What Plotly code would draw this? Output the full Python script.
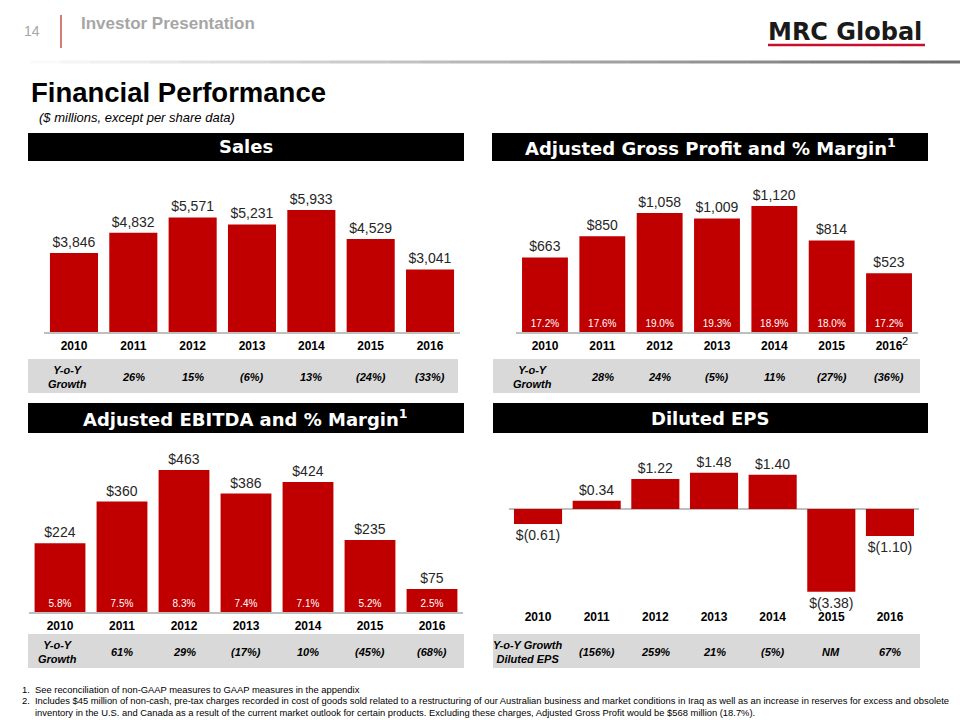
import plotly.graph_objects as go

# ---------------- data ----------------
years = ["2010", "2011", "2012", "2013", "2014", "2015", "2016"]

sales = [3846, 4832, 5571, 5231, 5933, 4529, 3041]
sales_growth = ["26%", "15%", "(6%)", "13%", "(24%)", "(33%)"]

gross_profit = [663, 850, 1058, 1009, 1120, 814, 523]
gross_margin = ["17.2%", "17.6%", "19.0%", "19.3%", "18.9%", "18.0%", "17.2%"]
gp_growth = ["28%", "24%", "(5%)", "11%", "(27%)", "(36%)"]

ebitda = [224, 360, 463, 386, 424, 235, 75]
ebitda_margin = ["5.8%", "7.5%", "8.3%", "7.4%", "7.1%", "5.2%", "2.5%"]
ebitda_growth = ["61%", "29%", "(17%)", "10%", "(45%)", "(68%)"]

eps = [-0.61, 0.34, 1.22, 1.48, 1.40, -3.38, -1.10]
eps_growth = ["(156%)", "259%", "21%", "(5%)", "NM", "67%"]

footnote_nums = ["1.", "2.", ""]
footnotes = [
    "See reconciliation of non-GAAP measures to GAAP measures in the appendix",
    "Includes $45 million of non-cash, pre-tax charges recorded in cost of goods sold related to a restructuring of our Australian business and market conditions in Iraq as well as an increase in reserves for excess and obsolete",
    "inventory in the U.S. and Canada as a result of the current market outlook for certain products. Excluding these charges, Adjusted Gross Profit would be $568 million (18.7%).",
]

# ---------------- styling ----------------
W, H = 960, 720
RED = "#C00000"
BAND = "#D9D9D9"
FONT = "Liberation Sans, Arial, sans-serif"
HFONT = "DejaVu Sans, Liberation Sans, sans-serif"
LABEL_C = "#262626"


def px(x):
    return x / W


def py(y):
    return 1 - y / H


def money(v):
    return f"${v:,}"


def eps_fmt(v):
    return f"${v:.2f}" if v >= 0 else f"$({-v:.2f})"


fig = go.Figure()

# Sales
fig.add_trace(go.Bar(x=years, y=sales, xaxis="x", yaxis="y", width=0.81,
                     marker=dict(color=RED, line=dict(width=0)),
                     text=[money(v) for v in sales], textposition="outside",
                     textfont=dict(size=14, color=LABEL_C, family=FONT),
                     cliponaxis=False, hoverinfo="skip"))
# Gross profit
fig.add_trace(go.Bar(x=years, y=gross_profit, xaxis="x2", yaxis="y2", width=0.80,
                     marker=dict(color=RED, line=dict(width=0)),
                     text=gross_margin, textposition="inside", insidetextanchor="start",
                     textangle=0,
                     insidetextfont=dict(size=10, color="white", family=FONT),
                     cliponaxis=False, hoverinfo="skip"))
fig.add_trace(go.Bar(x=years, y=gross_profit, xaxis="x2", yaxis="y2", width=0.80,
                     marker=dict(color="rgba(0,0,0,0)", line=dict(width=0)),
                     text=[money(v) for v in gross_profit], textposition="outside",
                     textfont=dict(size=14, color=LABEL_C, family=FONT),
                     cliponaxis=False, hoverinfo="skip"))
# EBITDA
fig.add_trace(go.Bar(x=years, y=ebitda, xaxis="x3", yaxis="y3", width=0.82,
                     marker=dict(color=RED, line=dict(width=0)),
                     text=ebitda_margin, textposition="inside", insidetextanchor="start",
                     textangle=0,
                     insidetextfont=dict(size=10, color="white", family=FONT),
                     cliponaxis=False, hoverinfo="skip"))
fig.add_trace(go.Bar(x=years, y=ebitda, xaxis="x3", yaxis="y3", width=0.82,
                     marker=dict(color="rgba(0,0,0,0)", line=dict(width=0)),
                     text=[money(v) for v in ebitda], textposition="outside",
                     textfont=dict(size=14, color=LABEL_C, family=FONT),
                     cliponaxis=False, hoverinfo="skip"))
# EPS
fig.add_trace(go.Bar(x=years, y=eps, xaxis="x4", yaxis="y4", width=0.82,
                     marker=dict(color=RED, line=dict(width=0)),
                     text=[eps_fmt(v) for v in eps], textposition="outside",
                     textfont=dict(size=14, color=LABEL_C, family=FONT),
                     cliponaxis=False, hoverinfo="skip"))

xcommon = dict(type="category", range=[-0.5, 6.5], showgrid=False, zeroline=False,
               ticks="", ticklabelstandoff=2, fixedrange=True,
               tickfont=dict(size=12, color="black", family=FONT, weight="bold"))
ycommon = dict(showgrid=False, showticklabels=False, ticks="", fixedrange=True)

fig.update_layout(
    width=W, height=H, margin=dict(l=0, r=0, t=0, b=0),
    paper_bgcolor="white", plot_bgcolor="rgba(0,0,0,0)",
    showlegend=False, barmode="overlay",
    font=dict(family=FONT),
    xaxis=dict(domain=[px(44.3), px(459.7)], anchor="y", showline=True,
               linecolor="#BFBFBF", linewidth=2, **xcommon),
    yaxis=dict(domain=[py(332), py(170)], anchor="x", range=[0, 7880],
               zeroline=False, **ycommon),
    xaxis2=dict(domain=[px(516.3), px(917.7)], anchor="y2", showline=True,
                linecolor="#BFBFBF", linewidth=2, **xcommon),
    yaxis2=dict(domain=[py(332), py(170)], anchor="x2", range=[0, 1440],
                zeroline=False, **ycommon),
    xaxis3=dict(domain=[px(29), px(463)], anchor="y3", showline=True,
                linecolor="#BFBFBF", linewidth=2, **xcommon),
    yaxis3=dict(domain=[py(612), py(445)], anchor="x3", range=[0, 544.5],
                zeroline=False, **ycommon),
    xaxis4=dict(domain=[px(508.7), px(919.3)], anchor="y4", showline=False, **xcommon),
    yaxis4=dict(domain=[py(606), py(445)], anchor="x4", range=[-3.959, 2.612],
                zeroline=True, zerolinecolor="#BFBFBF", zerolinewidth=2, **ycommon),
)

shapes = []
annotations = []

# top gradient rule
nseg = 32
for i in range(nseg):
    t = i / (nseg - 1)
    g = int(255 - t * (255 - 110))
    shapes.append(dict(type="line", xref="paper", yref="paper",
                       x0=px(960 * i / nseg), x1=px(960 * (i + 1) / nseg),
                       y0=py(62), y1=py(62),
                       line=dict(color=f"rgb({g},{g},{g})", width=3)))

# red vertical bar next to page number
shapes.append(dict(type="line", xref="paper", yref="paper", x0=px(61), x1=px(61),
                   y0=py(15), y1=py(48), line=dict(color="#C0504D", width=1.5)))
# logo underline
shapes.append(dict(type="line", xref="paper", yref="paper", x0=px(768), x1=px(925),
                   y0=py(45), y1=py(45), line=dict(color="#C8102E", width=2.5)))

annotations += [
    dict(text="14", x=px(22), y=py(31), xanchor="left", yanchor="middle",
         font=dict(size=14, color="#A6A6A6", family=FONT)),
    dict(text="<b>Investor Presentation</b>", x=px(79), y=py(24), xanchor="left",
         yanchor="middle", font=dict(size=17, color="#A6A6A6", family=FONT)),
    dict(text="<b>MRC Global</b>", x=px(766), y=py(32), xanchor="left", yanchor="middle",
         font=dict(size=24, color="#1a1a1a", family=HFONT)),
    dict(text="<b>Financial Performance</b>", x=px(29), y=py(93), xanchor="left",
         yanchor="middle", font=dict(size=27.5, color="black", family=FONT)),
    dict(text="<i>($ millions, except per share data)</i>", x=px(37), y=py(118),
         xanchor="left", yanchor="middle", font=dict(size=13, color="black", family=FONT)),
]

# header boxes
headers = [
    ("Sales", 28, 464, 133, 161),
    ("Adjusted Gross Profit and % Margin<sup>1</sup>", 492, 928, 133, 161),
    ("Adjusted EBITDA and % Margin<sup>1</sup>", 28, 464, 403, 433),
    ("Diluted EPS", 493, 928, 403, 433),
]
for txt, x0, x1, y0, y1 in headers:
    shapes.append(dict(type="rect", xref="paper", yref="paper", x0=px(x0), x1=px(x1),
                       y0=py(y1), y1=py(y0), fillcolor="black", line=dict(width=0),
                       layer="below"))
    annotations.append(dict(text=f"<b>{txt}</b>", x=px((x0 + x1) / 2), y=py((y0 + y1) / 2),
                            xanchor="center", yanchor="middle",
                            font=dict(size=18, color="white", family=HFONT)))

# growth tables
tables = [
    ("x", sales_growth, "Y-o-Y<br>Growth", 67, 28, 458, 359, 393),
    ("x2", gp_growth, "Y-o-Y<br>Growth", 532, 493, 920, 359, 393),
    ("x3", ebitda_growth, "Y-o-Y<br>Growth", 57, 28, 464, 634, 668),
    ("x4", eps_growth, "Y-o-Y Growth<br>Diluted EPS", 528, 493, 920, 634, 668),
]
for xref, vals, lab, labx, x0, x1, y0, y1 in tables:
    shapes.append(dict(type="rect", xref="paper", yref="paper", x0=px(x0), x1=px(x1),
                       y0=py(y1), y1=py(y0), fillcolor=BAND, line=dict(width=0),
                       layer="below"))
    ymid = py((y0 + y1) / 2 + 1)
    annotations.append(dict(text=f"<b><i>{lab}</i></b>", x=px(labx), y=ymid,
                            xanchor="center", yanchor="middle", showarrow=False,
                            font=dict(size=11, color="black", family=FONT)))
    for idx, v in enumerate(vals, start=1):
        annotations.append(dict(text=f"<b><i>{v}</i></b>", x=idx, xref=xref, yref="paper",
                                y=ymid, xanchor="center", yanchor="middle",
                                showarrow=False,
                                font=dict(size=11, color="black", family=FONT)))

# footnote marker on 2016 gross profit
annotations.append(dict(text="2", x=px(905), y=py(341), xanchor="center", yanchor="middle",
                        font=dict(size=11, color="black", family=FONT)))

# footnotes
for i, (num, line) in enumerate(zip(footnote_nums, footnotes)):
    yy = py(689 + 11.5 * i)
    if num:
        annotations.append(dict(text=num, x=px(20), y=yy, xanchor="left", yanchor="middle",
                                font=dict(size=9.4, color="black", family=FONT)))
    annotations.append(dict(text=line, x=px(33), y=yy, xanchor="left", yanchor="middle",
                            font=dict(size=9.4, color="black", family=FONT)))

for a in annotations:
    a.setdefault("showarrow", False)
    a.setdefault("xref", "paper")
    a.setdefault("yref", "paper")

fig.update_layout(shapes=shapes, annotations=annotations)
fig.write_html(
    "out.html",
    config={"displayModeBar": False},
    post_script="document.body.style.margin='0';document.documentElement.style.overflow='hidden';",
)
